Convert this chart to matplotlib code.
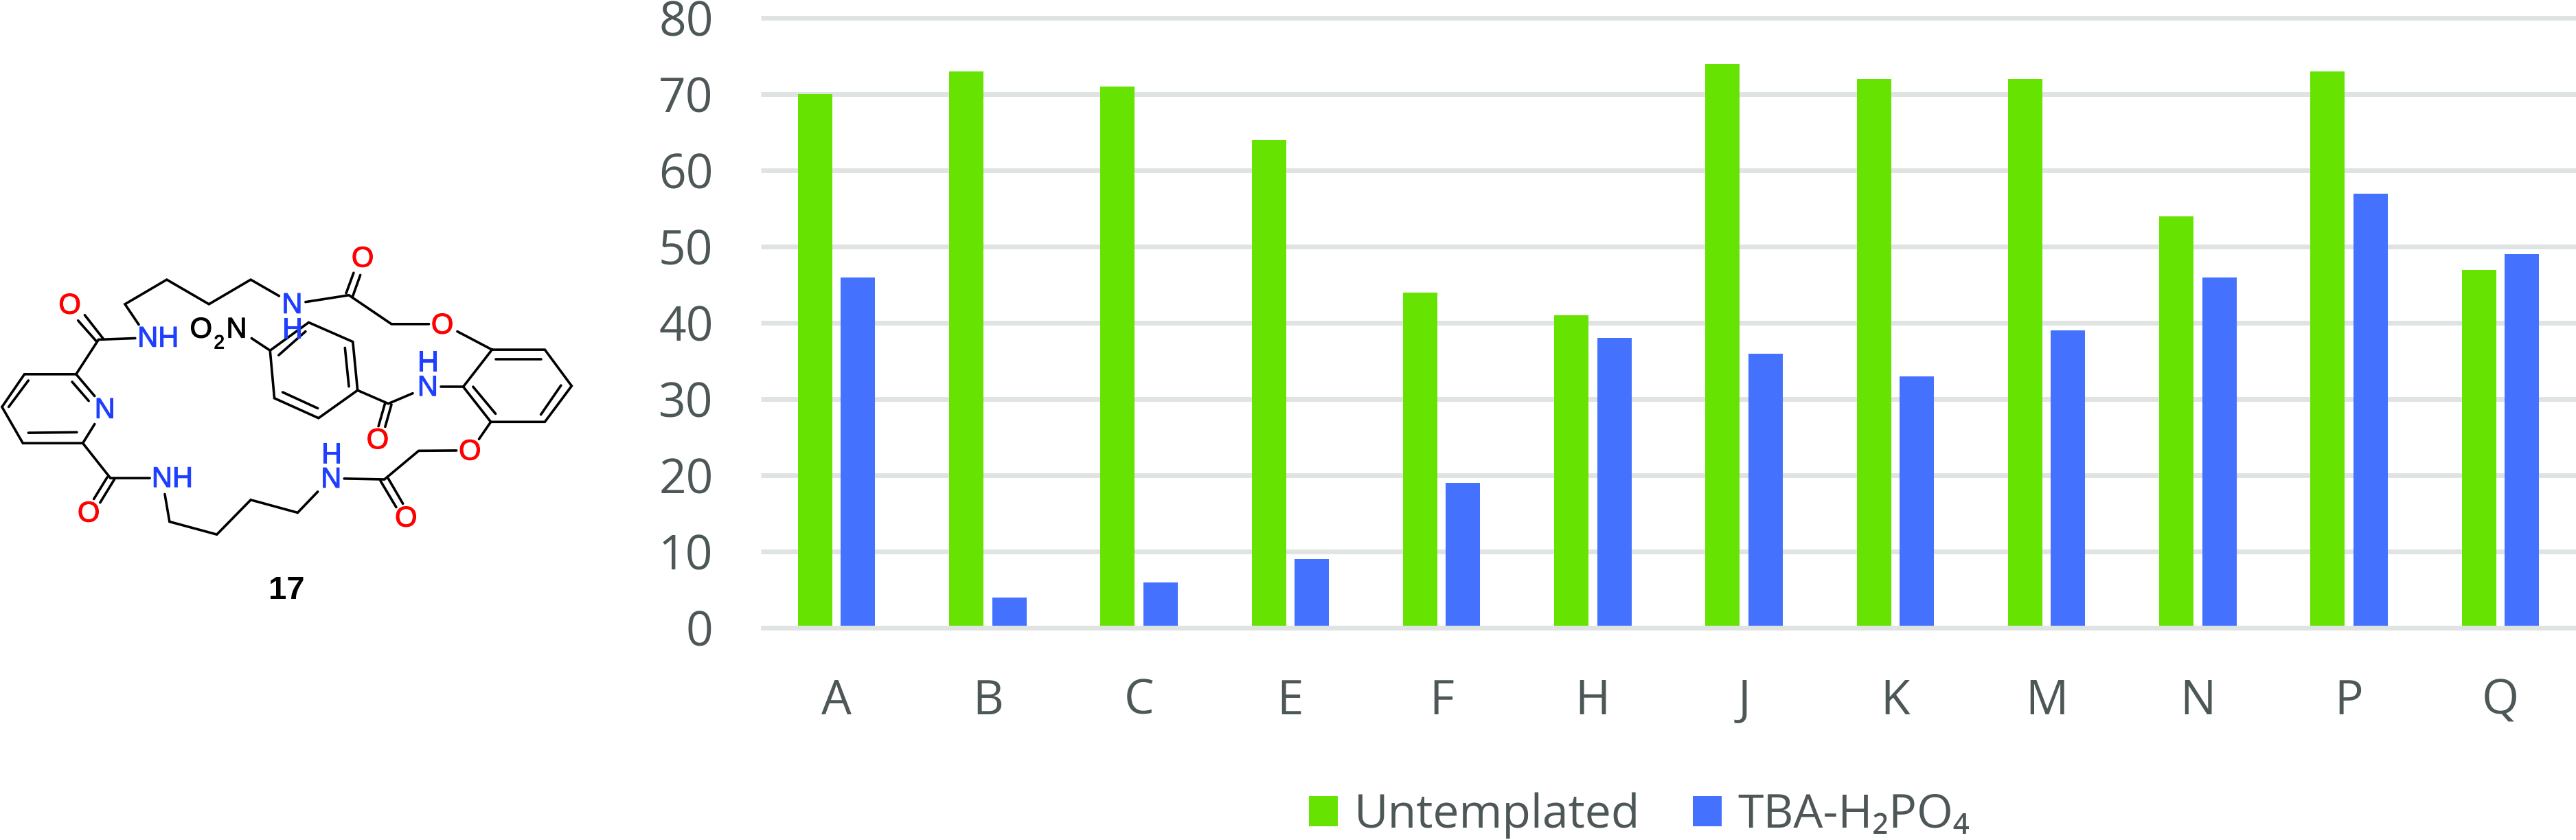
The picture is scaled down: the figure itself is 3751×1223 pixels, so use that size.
import matplotlib
matplotlib.use('Agg')
import matplotlib.pyplot as plt
import matplotlib.patheffects as pe
import numpy as np

plt.rcParams['font.family'] = ['Open Sans', 'DejaVu Sans']
plt.rcParams['lines.solid_capstyle'] = 'butt'

W = 3751
H = 1223

categories = ['A', 'B', 'C', 'E', 'F', 'H', 'J', 'K', 'M', 'N', 'P', 'Q']
untemplated = [70, 73, 71, 64, 44, 41, 74, 72, 72, 54, 73, 47]
tba = [46, 4, 6, 9, 19, 38, 36, 33, 39, 46, 57, 49]
y_ticks = [0, 10, 20, 30, 40, 50, 60, 70, 80]

GREEN = '#66e300'
BLUE = '#4472ff'
GREY = '#4d5757'
GRID = '#dfe4e3'

# molecule drawing, in coordinates
bonds = [
    # pyridine
    [(240, 697), (193, 617), (62, 617), (5, 737), (58, 870), (210, 870), (240, 800)],
    [(72, 640), (22, 737)], [(72, 832), (195, 830)], [(183, 645), (225, 715)],
    # upper amide and chain
    [(193, 617), (250, 490), (343, 485)],
    [(245, 497), (198, 420)], [(262, 487), (215, 400)],
    [(352, 435), (317, 360), (423, 270), (530, 360), (636, 270), (708, 330)],
    [(775, 352), (885, 327), (993, 433), (1088, 433)],
    [(878, 320), (897, 245)], [(895, 330), (914, 253)],
    [(1160, 460), (1248, 527)],
    # right ring
    [(1248, 527), (1382, 527), (1450, 660), (1382, 792), (1245, 792), (1175, 663), (1248, 527)],
    [(1258, 563), (1372, 563)], [(1423, 658), (1372, 765)], [(1200, 663), (1257, 762)],
    [(1175, 663), (1118, 663)],
    [(1047, 687), (985, 725), (907, 676)],
    [(977, 722), (960, 808)], [(993, 728), (977, 810)],
    # nitrobenzene
    [(907, 676), (895, 498), (783, 427), (685, 530), (696, 705), (808, 778), (907, 676)],
    [(885, 662), (875, 520)], [(775, 460), (707, 547)], [(717, 683), (806, 742)],
    [(685, 530), (638, 485)],
    # lower chain
    [(1245, 792), (1215, 855)],
    [(1158, 897), (1062, 898), (975, 1003), (873, 1000)],
    [(965, 1008), (1005, 1105)], [(985, 1000), (1022, 1092)],
    [(806, 1048), (755, 1125), (636, 1078), (550, 1205), (430, 1158), (418, 1057)],
    [(380, 998), (280, 998), (210, 870)],
    [(272, 995), (238, 1075)], [(290, 1003), (254, 1088)],
]
oxygens = [(177, 367), (920, 195), (1122, 440), (958, 862), (1192, 903), (1030, 1148), (225, 1130)]
blue_labels = [('N', 266, 750), ('NH', 401, 488), ('N', 741, 365), ('H', 741, 455),
               ('N', 1085, 668), ('H', 1085, 577), ('N', 840, 1005), ('H', 840, 915),
               ('NH', 437, 1003)]


def cx(x):
    return x / 1.742


def cy(y):
    return 300 + y / 2.52


def atom(x, y, s, color, size=30):
    t = mol.text(cx(x), cy(y), s, color=color, fontsize=size, family='Liberation Sans',
                 ha='center', va='center')
    t.set_path_effects([pe.withStroke(linewidth=0.8, foreground=color)])


fig = plt.figure(figsize=(W / 100, H / 100), dpi=100)

# chart
ax = fig.add_axes([1108 / W, 1 - 914.3 / H, 2643 / W, (914.3 - 26.3) / H])
x = np.arange(len(categories))
b1 = ax.bar(x - 0.142, untemplated, 0.227, color=GREEN, label='Untemplated', zorder=3)
b2 = ax.bar(x + 0.142, tba, 0.227, color=BLUE, label='TBA-H₂PO₄', zorder=3)
ax.set_xlim(-0.5, 11.5)
ax.set_ylim(0, 80)
ax.set_yticks(y_ticks)
ax.set_xticks(x)
ax.set_xticklabels(categories)
ax.tick_params(axis='both', length=0, labelsize=50, labelcolor=GREY)
ax.tick_params(axis='x', pad=52)
ax.tick_params(axis='y', pad=50)
for s in ax.spines.values():
    s.set_visible(False)
ax.grid(axis='y', color=GRID, lw=5)
ax.set_axisbelow(True)
for line in ax.get_ygridlines():
    line.set_clip_on(False)
# the bars stop on top of the zero line
ax.axhline(0, color=GRID, lw=5, zorder=4, clip_on=False)

leg = fig.legend(handles=[b1, b2], loc='center left', bbox_to_anchor=(1906 / W, 1 - 1187 / H),
                 ncol=2, frameon=False, fontsize=49, labelcolor=GREY, borderpad=0,
                 borderaxespad=0, handlelength=0.62, handleheight=0.63, handletextpad=0.35,
                 columnspacing=1.12)

# molecule
mol = fig.add_axes([0, 0, 1, 1])
mol.set_xlim(0, W)
mol.set_ylim(H, 0)
mol.axis('off')
mol.patch.set_alpha(0)

for txt, tx, ty in blue_labels:
    atom(tx, ty, txt, '#1f3fff')
for bond in bonds:
    xs = [cx(p[0]) for p in bond]
    ys = [cy(p[1]) for p in bond]
    mol.plot(xs, ys, color='black', lw=2.6, solid_joinstyle='miter', solid_capstyle='round')
for tx, ty in oxygens:
    atom(tx, ty, 'O', '#ff0000')
atom(510, 455, 'O', 'black')
atom(556, 505, '2', 'black', 20)
atom(600, 455, 'N', 'black')
mol.text(cx(727), cy(1412), '17', color='black', fontsize=34, family='Liberation Sans',
         fontweight='bold', ha='center', va='center')

fig.savefig('out.png', dpi=100)
